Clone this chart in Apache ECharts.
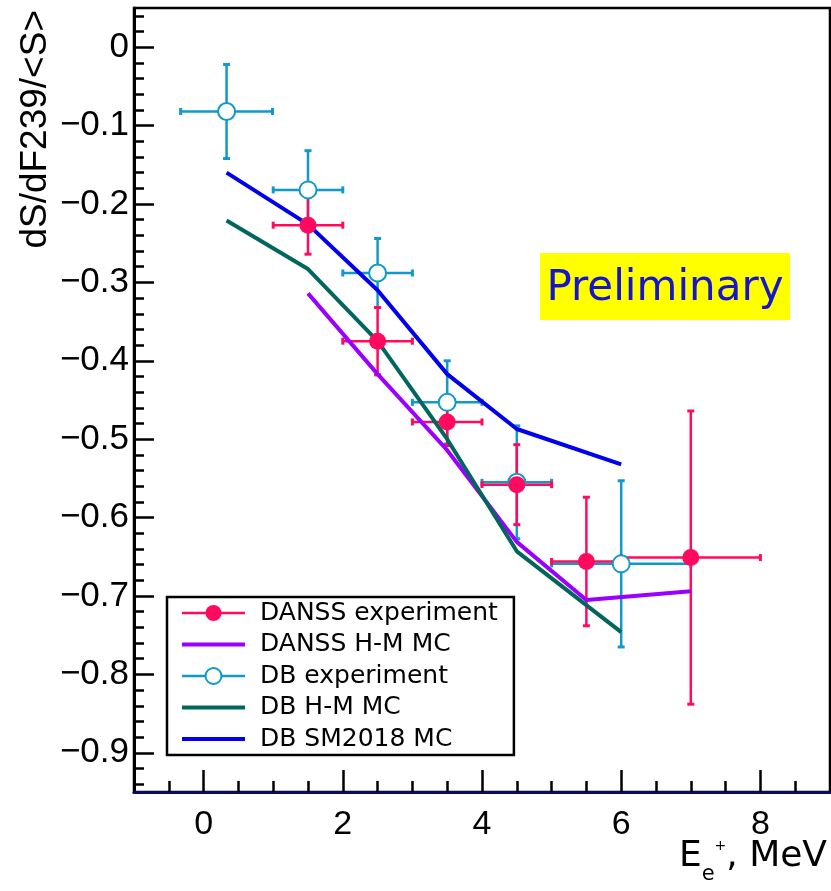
<!DOCTYPE html>
<html>
<head>
<meta charset="utf-8">
<script src="https://cdn.jsdelivr.net/npm/echarts@6/dist/echarts.min.js"></script>
<style>
html,body{margin:0;padding:0;background:#ffffff;}
#chart{width:831px;height:891px;}
</style>
</head>
<body>
<div id="chart"></div>
<script>
// ---- tick labels ----
const xTickLabels = [0, 2, 4, 6, 8];
const yTickLabels = [0, -0.1, -0.2, -0.3, -0.4, -0.5, -0.6, -0.7, -0.8, -0.9];

// ---- DANSS experiment ----
const danssX    = [1.5, 2.5, 3.5, 4.5, 5.5, 7.0];
const danssY    = [-0.227, -0.375, -0.478, -0.558, -0.656, -0.651];
const danssXErr = [0.5, 0.5, 0.5, 0.5, 0.5, 1.0];
const danssYErr = [0.037, 0.043, 0.030, 0.051, 0.082, 0.187];

// ---- DANSS H-M MC ----
const danssHMX = [1.5, 2.5, 3.5, 4.5, 5.5, 7.0];
const danssHMY = [-0.314, -0.417, -0.514, -0.631, -0.705, -0.694];

// ---- DB experiment ----
const dbX    = [0.33, 1.5, 2.5, 3.5, 4.5, 6.0];
const dbY    = [-0.082, -0.182, -0.288, -0.453, -0.555, -0.659];
const dbXErr = [0.66, 0.5, 0.5, 0.5, 0.5, 1.0];
const dbYErr = [0.060, 0.050, 0.044, 0.053, 0.072, 0.106];

// ---- DB H-M MC ----
const dbHMX = [0.33, 1.5, 2.5, 3.5, 4.5, 6.0];
const dbHMY = [-0.221, -0.283, -0.375, -0.500, -0.643, -0.746];

// ---- DB SM2018 MC ----
const dbSMX = [0.33, 1.5, 2.5, 3.5, 4.5, 6.0];
const dbSMY = [-0.160, -0.226, -0.310, -0.417, -0.487, -0.532];

// ---- colours ----
const cPink = '#ff0a5f';
const cPurple = '#9900ff';
const cCyan = '#1199cc';
const cTeal = '#00665e';
const cBlue = '#0000ee';

// minor tick positions
const xMinor = [];
for (let i = -2; i <= 17; i++) { const v = i * 0.5; if (v > -1 && v < 9 && Math.abs(v % 2) > 1e-9) xMinor.push(v); }
const yMinor = [];
for (let i = -47; i <= 2; i++) { const v = Math.round(i * 2) / 100; if (v > -0.95 && v < 0.05 && Math.abs(Math.round(v * 100)) % 10 !== 0) yMinor.push(v); }

function zip2(a, b) { return a.map((v, i) => [v, b[i]]); }
function zip4(a, b, c, d) { return a.map((v, i) => [v, b[i], c[i], d[i]]); }

function errRender(color) {
  return function (params, api) {
    const x = api.value(0), y = api.value(1), ex = api.value(2), ey = api.value(3);
    const l = api.coord([x - ex, y]);
    const r = api.coord([x + ex, y]);
    const t = api.coord([x, y + ey]);
    const b = api.coord([x, y - ey]);
    const st = { stroke: color, lineWidth: 2.5 };
    const cs = { stroke: color, lineWidth: 3 };
    const c = 3.5;
    return {
      type: 'group',
      children: [
        { type: 'line', shape: { x1: l[0], y1: l[1], x2: r[0], y2: r[1] }, style: st },
        { type: 'line', shape: { x1: t[0], y1: t[1], x2: b[0], y2: b[1] }, style: st },
        { type: 'line', shape: { x1: l[0], y1: l[1] - c, x2: l[0], y2: l[1] + c }, style: cs },
        { type: 'line', shape: { x1: r[0], y1: r[1] - c, x2: r[0], y2: r[1] + c }, style: cs },
        { type: 'line', shape: { x1: t[0] - c, y1: t[1], x2: t[0] + c, y2: t[1] }, style: cs },
        { type: 'line', shape: { x1: b[0] - c, y1: b[1], x2: b[0] + c, y2: b[1] }, style: cs }
      ]
    };
  };
}

function fmtY(v) {
  if (Math.abs(v) < 1e-9) return '0';
  return (v < 0 ? '\u2212' : '') + Math.abs(v).toFixed(1);
}

const chart = echarts.init(document.getElementById('chart'), null, { renderer: 'canvas' });

const option = {
  animation: false,
  backgroundColor: '#ffffff',
  grid: {
    left: 134, right: 1, top: 8, bottom: 99,
    show: true, borderColor: '#000000', borderWidth: 2.5, backgroundColor: 'transparent',
    containLabel: false, outerBoundsMode: 'none'
  },
  xAxis: [
    {
      type: 'value', min: -1, max: 9, position: 'bottom',
      name: '{a|E}{b|e}{c|+}{a|, MeV}',
      nameLocation: 'end', nameGap: -3, nameMoveOverlap: false,
      nameTextStyle: {
        align: 'right', verticalAlign: 'top', padding: [47, 0, 0, 0],
        color: '#000',
        rich: {
          a: { fontFamily: 'DejaVu Sans', fontSize: 36, lineHeight: 36, verticalAlign: 'top', color: '#000' },
          b: { fontFamily: 'DejaVu Sans', fontSize: 21, lineHeight: 21, verticalAlign: 'bottom', color: '#000' },
          c: { fontFamily: 'DejaVu Sans', fontSize: 14, lineHeight: 46, verticalAlign: 'top', color: '#000' }
        }
      },
      axisLine: { show: true, onZero: false, lineStyle: { color: '#0a0a60', width: 3 } },
      axisTick: { show: true, inside: true, length: 22, customValues: xTickLabels, lineStyle: { color: '#000', width: 2.5 } },
      axisLabel: { show: true, customValues: xTickLabels, margin: 16, fontFamily: 'Liberation Sans', fontSize: 34, color: '#000',
        formatter: v => String(v) },
      splitLine: { show: false }
    },
    {
      type: 'value', min: -1, max: 9, position: 'bottom', gridIndex: 0,
      axisLine: { show: false, onZero: false },
      axisTick: { show: true, inside: true, length: 11, customValues: xMinor, lineStyle: { color: '#000', width: 2.5 } },
      axisLabel: { show: false },
      splitLine: { show: false }
    }
  ],
  yAxis: [
    {
      type: 'value', min: -0.95, max: 0.05, position: 'left',
      name: 'dS/dF239/<S>',
      nameLocation: 'end', nameRotate: 90, nameGap: -2, nameMoveOverlap: false,
      nameTextStyle: {
        fontFamily: 'Liberation Sans', fontSize: 37, color: '#000',
        align: 'right', verticalAlign: 'bottom', padding: [0, 0, 80, 0]
      },
      axisLine: { show: true, onZero: false, lineStyle: { color: '#000', width: 3 } },
      axisTick: { show: true, inside: true, length: 20, customValues: yTickLabels, lineStyle: { color: '#000', width: 2.5 } },
      axisLabel: { show: true, customValues: yTickLabels, margin: 5, fontFamily: 'Liberation Sans', fontSize: 35, color: '#000',
        formatter: fmtY },
      splitLine: { show: false }
    },
    {
      type: 'value', min: -0.95, max: 0.05, position: 'left', gridIndex: 0,
      axisLine: { show: false, onZero: false },
      axisTick: { show: true, inside: true, length: 10, customValues: yMinor, lineStyle: { color: '#000', width: 2.5 } },
      axisLabel: { show: false },
      splitLine: { show: false }
    }
  ],
  legend: {
    orient: 'vertical',
    left: 167, top: 597,
    padding: [3, 16, 3, 13],
    itemGap: 5.5,
    itemWidth: 63, itemHeight: 20,
    backgroundColor: '#ffffff',
    borderColor: '#000000', borderWidth: 2.5,
    textStyle: { fontFamily: 'DejaVu Sans', fontSize: 25, color: '#000', lineHeight: 26, padding: [0, 0, 0, 10] },
    selectedMode: false,
    data: [
      { name: 'DANSS experiment', lineStyle: { width: 2.5, opacity: 1, color: cPink }, itemStyle: { opacity: 1 } },
      { name: 'DANSS H-M MC', lineStyle: { width: 4, opacity: 1, color: cPurple }, itemStyle: { opacity: 0 } },
      { name: 'DB experiment', lineStyle: { width: 2.5, opacity: 1, color: cCyan }, itemStyle: { opacity: 1 } },
      { name: 'DB H-M MC', lineStyle: { width: 4, opacity: 1, color: cTeal }, itemStyle: { opacity: 0 } },
      { name: 'DB SM2018 MC', lineStyle: { width: 4, opacity: 1, color: cBlue }, itemStyle: { opacity: 0 } }
    ]
  },
  graphic: [
    { type: 'rect', left: 540, top: 253, shape: { width: 250, height: 67 }, style: { fill: '#ffff00' }, z: 10 },
    { type: 'text', x: 665, y: 289, z: 11,
      style: { text: 'Preliminary', fontFamily: 'DejaVu Sans', fontSize: 42, fill: '#1515cc', align: 'center', verticalAlign: 'middle' } }
  ],
  series: [
    {
      name: 'DB experiment errors', type: 'custom', xAxisIndex: 0, yAxisIndex: 0, z: 2,
      renderItem: errRender(cCyan), encode: { x: 0, y: 1 },
      data: zip4(dbX, dbY, dbXErr, dbYErr), silent: true
    },
    {
      name: 'DANSS experiment errors', type: 'custom', xAxisIndex: 0, yAxisIndex: 0, z: 3,
      renderItem: errRender(cPink), encode: { x: 0, y: 1 },
      data: zip4(danssX, danssY, danssXErr, danssYErr), silent: true
    },
    {
      name: 'DANSS H-M MC', type: 'line', xAxisIndex: 0, yAxisIndex: 0, z: 4,
      data: zip2(danssHMX, danssHMY), symbol: 'none', showSymbol: false,
      lineStyle: { color: cPurple, width: 4 }, itemStyle: { color: cPurple }
    },
    {
      name: 'DB H-M MC', type: 'line', xAxisIndex: 0, yAxisIndex: 0, z: 4,
      data: zip2(dbHMX, dbHMY), symbol: 'none', showSymbol: false,
      lineStyle: { color: cTeal, width: 4 }, itemStyle: { color: cTeal }
    },
    {
      name: 'DB SM2018 MC', type: 'line', xAxisIndex: 0, yAxisIndex: 0, z: 4,
      data: zip2(dbSMX, dbSMY), symbol: 'none', showSymbol: false,
      lineStyle: { color: cBlue, width: 4 }, itemStyle: { color: cBlue }
    },
    {
      name: 'DB experiment', type: 'line', xAxisIndex: 0, yAxisIndex: 0, z: 5,
      data: zip2(dbX, dbY), symbol: 'emptyCircle', symbolSize: 17, showSymbol: true,
      lineStyle: { width: 0, opacity: 0, color: cCyan },
      itemStyle: { color: cCyan, borderColor: cCyan, borderWidth: 2 }
    },
    {
      name: 'DANSS experiment', type: 'line', xAxisIndex: 0, yAxisIndex: 0, z: 6,
      data: zip2(danssX, danssY), symbol: 'circle', symbolSize: 17, showSymbol: true,
      lineStyle: { width: 0, opacity: 0, color: cPink },
      itemStyle: { color: cPink }
    }
  ]
};

chart.setOption(option);
</script>
</body>
</html>
